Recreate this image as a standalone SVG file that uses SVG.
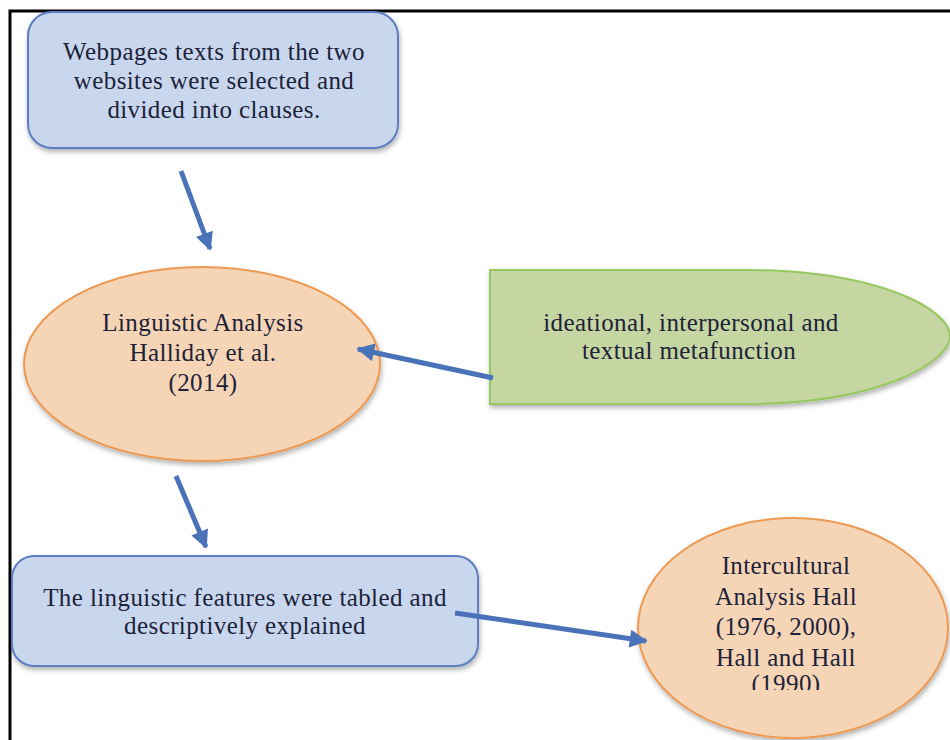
<svg xmlns="http://www.w3.org/2000/svg" width="950" height="740" viewBox="0 0 950 740">
<style>
text { font-family: "Liberation Serif", "Times New Roman", serif; font-size: 25px; letter-spacing: 0.4px; fill: #1c2238; text-anchor: middle; }
.box { fill: #c9d7ee; stroke: #5b7fbf; stroke-width: 2; }
.oval { fill: #f6d5b7; stroke: #ec9a52; stroke-width: 2; }
.green { fill: #c6d6a2; stroke: #97c860; stroke-width: 2; }
.conn { stroke: #4a72b8; stroke-width: 5; fill: none; }
</style>
<defs>
<filter id="sh" x="-10%" y="-10%" width="120%" height="130%">
<feDropShadow dx="1" dy="3" stdDeviation="2.5" flood-color="#000" flood-opacity="0.3"/>
</filter>
<marker id="ah" viewBox="0 0 10 10" refX="9" refY="5" markerWidth="4" markerHeight="3.6" orient="auto" markerUnits="strokeWidth">
<path d="M0,0 L10,5 L0,10 Z" fill="#4a72b8"/>
</marker>
<clipPath id="clipIC"><rect x="600" y="500" width="350" height="190"/></clipPath>
</defs>
<rect x="0" y="0" width="950" height="740" fill="#fff"/>
<path d="M950,11 H10 V740" fill="none" stroke="#000" stroke-width="3"/>

<g id="n1">
<rect class="box" x="28" y="12" width="370" height="136" rx="24" filter="url(#sh)"/>
<text x="214" y="60">Webpages texts from the two</text>
<text x="214" y="89">websites were selected and</text>
<text x="214" y="118">divided into clauses.</text>
</g>

<g id="n2">
<ellipse class="oval" cx="202" cy="364" rx="178" ry="97" filter="url(#sh)"/>
<text x="203" y="331">Linguistic Analysis</text>
<text x="203" y="361">Halliday et al.</text>
<text x="203" y="391">(2014)</text>
</g>

<g id="n3">
<path class="green" d="M490,270 H745 C880,270 950,310 950,336 C950,362 880,404 745,404 H490 Z" filter="url(#sh)"/>
<text x="691" y="331">ideational, interpersonal and</text>
<text x="689" y="359">textual metafunction</text>
</g>

<g id="n4">
<rect class="box" x="12" y="556" width="466" height="110" rx="22" filter="url(#sh)"/>
<text x="245" y="606">The linguistic features were tabled and</text>
<text x="245" y="634">descriptively explained</text>
</g>

<g id="n5">
<ellipse class="oval" cx="793" cy="628" rx="155" ry="110" filter="url(#sh)"/>
<g clip-path="url(#clipIC)">
<text x="786" y="574">Intercultural</text>
<text x="786" y="605">Analysis Hall</text>
<text x="786" y="635">(1976, 2000),</text>
<text x="786" y="666">Hall and Hall</text>
<text x="786" y="692">(1990)</text>
</g>
</g>

<g id="connectors">
<line class="conn" x1="181" y1="171" x2="210" y2="249" marker-end="url(#ah)"/>
<line class="conn" x1="493" y1="378" x2="358" y2="349" marker-end="url(#ah)"/>
<line class="conn" x1="176" y1="476" x2="206" y2="547" marker-end="url(#ah)"/>
<line class="conn" x1="455" y1="613" x2="646" y2="641" marker-end="url(#ah)"/>
</g>
</svg>
